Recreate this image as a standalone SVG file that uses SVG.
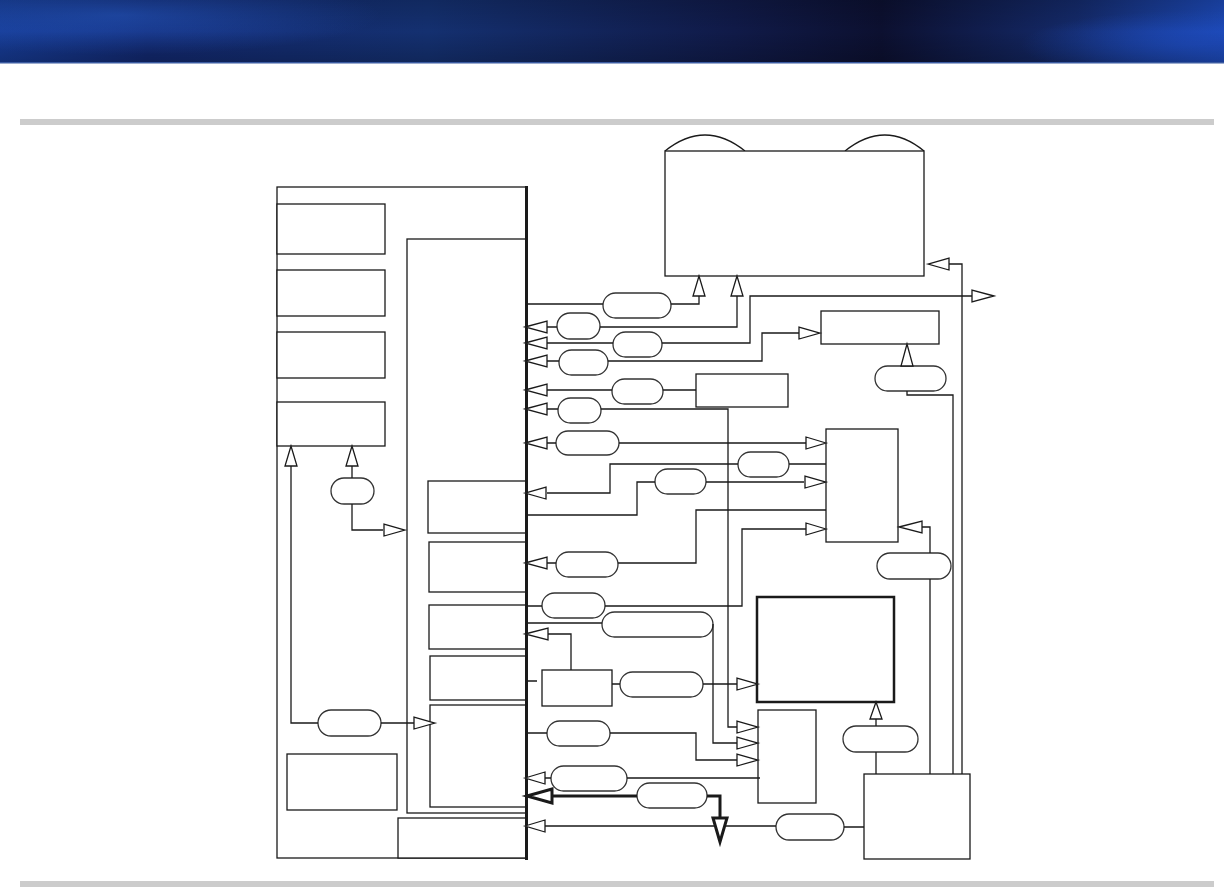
<svg xmlns="http://www.w3.org/2000/svg" width="1224" height="896" viewBox="0 0 1224 896">
<defs>
<clipPath id="hc"><rect x="0" y="0" width="1224" height="63"/></clipPath>
<linearGradient id="hdr" x1="0" y1="0" x2="1" y2="0">
<stop offset="0" stop-color="#163a92"/>
<stop offset="0.12" stop-color="#12286e"/>
<stop offset="0.35" stop-color="#143070"/>
<stop offset="0.6" stop-color="#101a48"/>
<stop offset="0.72" stop-color="#0c1030"/>
<stop offset="0.88" stop-color="#142a6a"/>
<stop offset="1" stop-color="#1c48b4"/>
</linearGradient>
<radialGradient id="g1" cx="0.5" cy="0.5" r="0.5">
<stop offset="0" stop-color="#2456c0" stop-opacity="0.7"/>
<stop offset="1" stop-color="#2456c0" stop-opacity="0"/>
</radialGradient>
<radialGradient id="g2" cx="0.5" cy="0.5" r="0.5">
<stop offset="0" stop-color="#1e4cc0" stop-opacity="0.8"/>
<stop offset="1" stop-color="#1e4cc0" stop-opacity="0"/>
</radialGradient>
<linearGradient id="vshade" x1="0" y1="0" x2="0" y2="1">
<stop offset="0" stop-color="#000" stop-opacity="0.15"/>
<stop offset="0.5" stop-color="#000" stop-opacity="0"/>
<stop offset="1" stop-color="#000" stop-opacity="0.2"/>
</linearGradient>
<style>
.b{fill:#fff;stroke:#1a1a1a;stroke-width:1.3}
.bt{fill:#fff;stroke:#1a1a1a;stroke-width:2.5}
.p{fill:#fff;stroke:#333;stroke-width:1.3}
.c{fill:none;stroke:#1a1a1a;stroke-width:1.3}
.ct{fill:none;stroke:#1a1a1a;stroke-width:3}
.a{fill:#fff;stroke:#1a1a1a;stroke-width:1.3}
.at{fill:#fff;stroke:#1a1a1a;stroke-width:3}
</style>
</defs>
<g id="header">
<g clip-path="url(#hc)">
<rect x="0" y="0" width="1224" height="63" fill="url(#hdr)"/>
<ellipse cx="120" cy="15" rx="260" ry="40" fill="url(#g1)"/>
<ellipse cx="1200" cy="45" rx="180" ry="35" fill="url(#g2)"/>
<rect x="0" y="0" width="1224" height="63" fill="url(#vshade)"/>
</g>
<rect x="0" y="62" width="1224" height="1.5" fill="#3a5aa0"/>
<rect x="20" y="119" width="1194" height="6" fill="#cccccc"/>
<rect x="20" y="881" width="1194" height="6" fill="#cccccc"/>
</g>

<g id="main">
<rect class="b" x="277" y="187" width="249" height="671"/>
<rect id="left1" class="b" x="277" y="204" width="108" height="50"/>
<rect id="left2" class="b" x="277" y="270" width="108" height="46"/>
<rect id="left3" class="b" x="277" y="332" width="108" height="46"/>
<rect id="left4" class="b" x="277" y="402" width="108" height="44"/>
<rect id="inner" class="b" x="407" y="239" width="120" height="574"/>
<rect id="subA" class="b" x="428" y="481" width="99" height="52"/>
<rect id="subB" class="b" x="429" y="542" width="98" height="50"/>
<rect id="subC" class="b" x="429" y="605" width="98" height="44"/>
<rect id="subD" class="b" x="430" y="656" width="97" height="44"/>
<rect id="subE" class="b" x="430" y="705" width="97" height="102"/>
<rect id="bottomBox" class="b" x="398" y="818" width="129" height="40"/>
<rect id="blBox" class="b" x="287" y="754" width="110" height="56"/>
<line x1="526.5" y1="186" x2="526.5" y2="860" stroke="#1a1a1a" stroke-width="3"/>
</g>

<g id="topBox">
<path class="b" d="M665,151 Q705,119 745,151 M845,151 Q885,119 924,151"/>
<rect class="b" x="665" y="151" width="259" height="125"/>
</g>
<g id="boxR1"><rect class="b" x="821" y="311" width="118" height="33" stroke-width="2"/></g>
<g id="boxR2"><rect class="b" x="696" y="374" width="92" height="33" stroke-width="1.8"/></g>
<g id="boxR3"><rect class="b" x="826" y="429" width="72" height="113"/></g>
<g id="boxBig"><rect class="bt" x="757" y="597" width="137" height="105"/></g>
<g id="boxSmall"><rect class="b" x="542" y="670" width="70" height="36"/></g>
<g id="boxTall"><rect class="b" x="758" y="710" width="58" height="93"/></g>
<g id="boxBR"><rect class="b" x="864" y="774" width="106" height="85"/></g>

<g id="pills">
<rect class="p" x="331" y="478" width="43" height="26" rx="13"/>
<rect class="p" x="318" y="710" width="63" height="26" rx="13"/>
<rect class="p" x="603" y="293" width="68" height="25" rx="12.5"/>
<rect class="p" x="557" y="313" width="43" height="26" rx="13"/>
<rect class="p" x="613" y="332" width="49" height="25" rx="12.5"/>
<rect class="p" x="559" y="350" width="49" height="25" rx="12.5"/>
<rect class="p" x="612" y="379" width="51" height="25" rx="12.5"/>
<rect class="p" x="558" y="398" width="43" height="25" rx="12.5"/>
<rect class="p" x="556" y="431" width="63" height="24" rx="12"/>
<rect class="p" x="738" y="452" width="51" height="25" rx="12.5"/>
<rect class="p" x="655" y="469" width="51" height="25" rx="12.5"/>
<rect class="p" x="556" y="552" width="62" height="25" rx="12.5"/>
<rect class="p" x="542" y="593" width="63" height="25" rx="12.5"/>
<rect class="p" x="602" y="612" width="111" height="25" rx="12.5"/>
<rect class="p" x="620" y="672" width="83" height="25" rx="12.5"/>
<rect class="p" x="547" y="721" width="63" height="25" rx="12.5"/>
<rect class="p" x="551" y="766" width="76" height="25" rx="12.5"/>
<rect class="p" x="637" y="783" width="70" height="25" rx="12.5"/>
<rect class="p" x="776" y="814" width="68" height="26" rx="13"/>
<rect class="p" x="843" y="726" width="75" height="26" rx="13"/>
<rect class="p" x="875" y="366" width="71" height="25" rx="12.5"/>
<rect class="p" x="877" y="553" width="74" height="26" rx="13"/>
</g>

<g id="connectors">
<path class="c" d="M291,466 V723 H318 M381,723 H414 M352,466 V478 M352,504 V530 H383"/>
<path class="c" d="M527,304 H603 M671,304 H699 V296"/>
<path class="c" d="M547,327 H557 M600,327 H737 V296"/>
<path class="c" d="M547,343 H613 M662,343 H750 V296 H972"/>
<path class="c" d="M547,361 H559 M608,361 H762 V333 H799"/>
<path class="c" d="M547,390 H612 M663,390 H696"/>
<path class="c" d="M547,409 H558 M601,409 H728 V727 H737"/>
<path class="c" d="M547,443 H556 M619,443 H806"/>
<path class="c" d="M826,464 H789 M738,464 H610 V493 H547"/>
<path class="c" d="M527,515 H637 V482 H655 M706,482 H804"/>
<path class="c" d="M826,510 H696 V563 H618 M556,563 H547"/>
<path class="c" d="M527,606 H542 M605,606 H742 V529 H806"/>
<path class="c" d="M527,623 H602 M713,624 V743 H737"/>
<path class="c" d="M548,634 H571 V670"/>
<path class="c" d="M527,681 H537 M612,684 H620 M703,684 H737"/>
<path class="c" d="M527,733 H547 M610,733 H696 V760 H737"/>
<path class="c" d="M545,778 H551 M627,778 H760"/>
<path class="ct" d="M552,796 H637 M707,796 H720 V817"/>
<path class="c" d="M545,826 H776 M844,827 H864"/>
<path class="c" d="M876,719 V726 M876,752 V774"/>
<path class="c" d="M930,774 V579 M930,553 V527 H922"/>
<path class="c" d="M953,774 V395 H907 V391"/>
<path class="c" d="M962,774 V264 H949"/>

<polygon class="a" points="291,446 285,466 297,466"/>
<polygon class="a" points="352,446 346,466 358,466"/>
<polygon class="a" points="435,723 414,717 414,729"/>
<polygon class="a" points="405,530 384,524 384,536"/>
<polygon class="a" points="699,276 693,296 705,296"/>
<polygon class="a" points="737,276 731,296 743,296"/>
<polygon class="a" points="994,296 972,290 972,302"/>
<polygon class="a" points="820,333 799,327 799,339"/>
<polygon class="a" points="928,264 949,258 949,270"/>
<polygon class="a" points="907,344 901,366 913,366"/>
<polygon class="a" points="899,527 922,521 922,533"/>
<polygon class="a" points="876,702 870,719 882,719"/>
<polygon class="a" points="826,443 806,437 806,449"/>
<polygon class="a" points="826,482 805,476 805,488"/>
<polygon class="a" points="826,529 806,523 806,535"/>
<polygon class="a" points="758,684 737,678 737,690"/>
<polygon class="a" points="758,727 737,721 737,733"/>
<polygon class="a" points="758,743 737,737 737,749"/>
<polygon class="a" points="758,760 737,754 737,766"/>
<polygon class="a" points="525,327 547,321 547,333"/>
<polygon class="a" points="525,343 547,337 547,349"/>
<polygon class="a" points="525,361 547,355 547,367"/>
<polygon class="a" points="525,390 547,384 547,396"/>
<polygon class="a" points="525,409 547,403 547,415"/>
<polygon class="a" points="525,443 547,437 547,449"/>
<polygon class="a" points="525,493 546,487 546,499"/>
<polygon class="a" points="525,563 547,557 547,569"/>
<polygon class="a" points="525,634 548,628 548,640"/>
<polygon class="a" points="525,778 545,772 545,784"/>
<polygon class="a" points="525,826 545,820 545,832"/>
<polygon class="at" points="527,796 552,789 552,803"/>
<polygon class="at" points="720,842 713,818 727,818"/>
</g>
</svg>
